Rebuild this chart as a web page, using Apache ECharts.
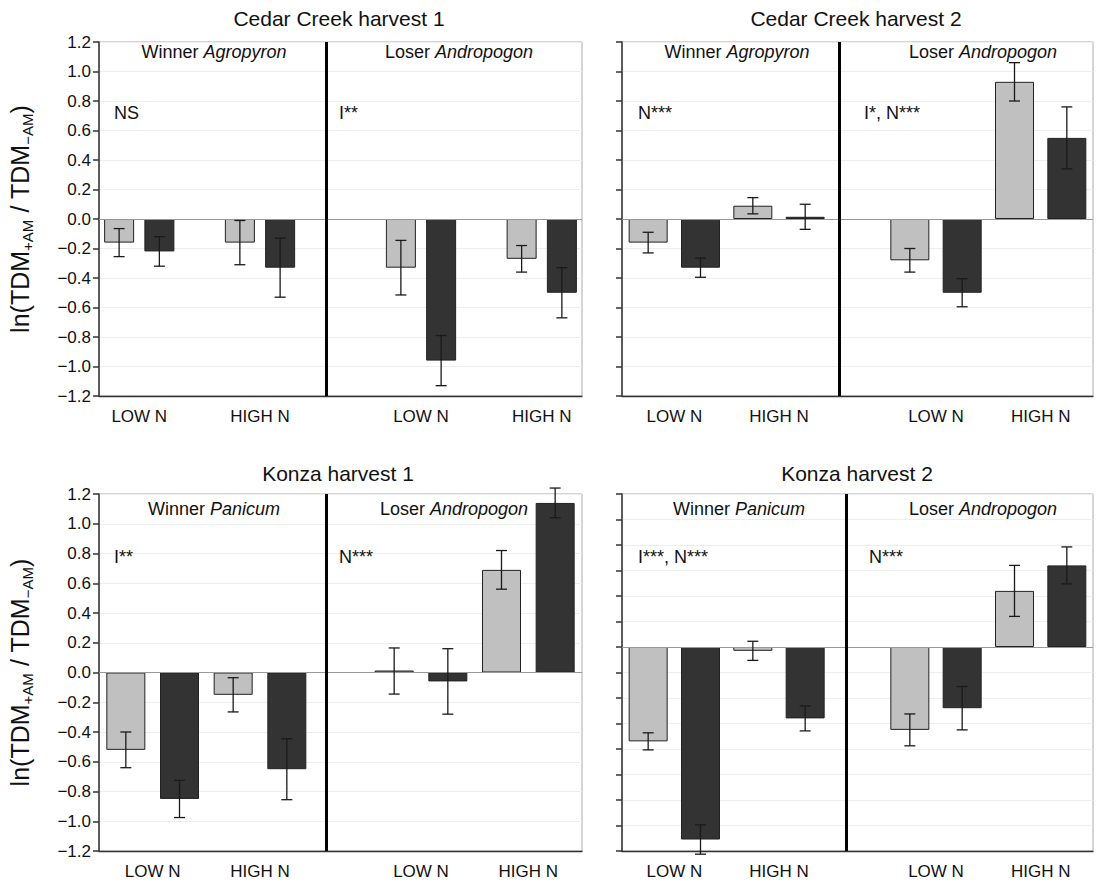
<!DOCTYPE html>
<html>
<head>
<meta charset="utf-8">
<title>ln(TDM+AM / TDM-AM)</title>
<script src="https://cdn.jsdelivr.net/npm/echarts@6/dist/echarts.min.js"></script>
<style>
  html, body { margin: 0; padding: 0; background: #fff; }
  #main { width: 1096px; height: 883px; }
</style>
</head>
<body>
<div id="main"></div>
<script>
// bar order in every panel:
// winner LOW (light, dark), winner HIGH (light, dark), loser LOW (light, dark), loser HIGH (light, dark)
var nLabels = ['LOW N', 'HIGH N', 'LOW N', 'HIGH N'];
var slotsCC1 = [0, 1, 3, 4, 7, 8, 10, 11];
var slots = [0, 1, 2, 3, 5, 6, 7, 8];

var cc1Mean = [-0.16, -0.22, -0.16, -0.33, -0.33, -0.96, -0.27, -0.50];
var cc1Err  = [0.095, 0.10, 0.15, 0.20, 0.185, 0.17, 0.09, 0.17];

var cc2Mean = [-0.16, -0.33, 0.09, 0.015, -0.28, -0.50, 0.93, 0.55];
var cc2Err  = [0.07, 0.065, 0.055, 0.085, 0.08, 0.095, 0.13, 0.21];

var k1Mean = [-0.52, -0.85, -0.15, -0.65, 0.01, -0.06, 0.69, 1.14];
var k1Err  = [0.12, 0.125, 0.115, 0.205, 0.155, 0.22, 0.13, 0.10];

var k2Mean = [-0.74, -1.51, -0.03, -0.56, -0.65, -0.48, 0.44, 0.64];
var k2Err  = [0.067, 0.115, 0.075, 0.098, 0.125, 0.17, 0.20, 0.145];

var FONT = '"Liberation Sans", Arial, Helvetica, sans-serif';
var LIGHT = '#c0c0c0', DARK = '#333333', INK = '#111';

var panels = [
  { title: 'Cedar Creek harvest 1', slots: slotsCC1, xMax: 11.5, divider: 5.15,
    mean: cc1Mean, err: cc1Err, yMin: -1.2, yMax: 1.2, yLabels: true, barWidth: 30,
    grid: { left: 99, top: 42, width: 483, height: 354 },
    winner: 'Agropyron', stats: ['NS', 'I**'],
    pos: { title: [339, 18], sub: [[214, 52], [459, 52]], stat: [[114, 113], [339, 113]] } },
  { title: 'Cedar Creek harvest 2', slots: slots, xMax: 8.5, divider: 3.65,
    mean: cc2Mean, err: cc2Err, yMin: -1.2, yMax: 1.2, yLabels: false, barWidth: 39,
    grid: { left: 622, top: 42, width: 481, height: 354 },
    winner: 'Agropyron', stats: ['N***', 'I*, N***'],
    pos: { title: [856, 18], sub: [[737, 52], [983, 52]], stat: [[638, 113], [864, 113]] } },
  { title: 'Konza harvest 1', slots: slots, xMax: 8.5, divider: 3.73,
    mean: k1Mean, err: k1Err, yMin: -1.2, yMax: 1.2, yLabels: true, barWidth: 39,
    grid: { left: 99, top: 494, width: 483, height: 357 },
    winner: 'Panicum', stats: ['I**', 'N***'],
    pos: { title: [338, 473], sub: [[214, 509], [454, 509]], stat: [[114, 557], [339, 557]] } },
  { title: 'Konza harvest 2', slots: slots, xMax: 8.5, divider: 3.78,
    mean: k2Mean, err: k2Err, yMin: -1.6, yMax: 1.2, yLabels: false, barWidth: 39,
    grid: { left: 622, top: 494, width: 481, height: 357 },
    winner: 'Panicum', stats: ['I***, N***', 'N***'],
    pos: { title: [857, 473], sub: [[739, 509], [983, 509]], stat: [[638, 557], [869, 557]] } }
];

var yName = '{t|ln(TDM}{s|+AM}{t| / TDM}{s|\u2212AM}{t|)}';

function fmtTick(v) {
  return v.toFixed(1).replace('-', '\u2212');
}

function pairLabel(p, v) {
  for (var k = 0; k < 4; k++) {
    var mid = (p.slots[2 * k] + p.slots[2 * k + 1]) / 2;
    if (Math.abs(mid - v) < 1e-6) return nLabels[k];
  }
  return '';
}

function renderErr(params, api) {
  var x = api.value(0);
  var top = api.coord([x, api.value(2)]);
  var bot = api.coord([x, api.value(1)]);
  var w = 5.5;
  var st = { stroke: '#1a1a1a', lineWidth: 1.3 };
  return {
    type: 'group',
    children: [
      { type: 'line', shape: { x1: top[0], y1: top[1], x2: bot[0], y2: bot[1] }, style: st },
      { type: 'line', shape: { x1: top[0] - w, y1: top[1], x2: top[0] + w, y2: top[1] }, style: st },
      { type: 'line', shape: { x1: bot[0] - w, y1: bot[1], x2: bot[0] + w, y2: bot[1] }, style: st }
    ]
  };
}

var grids = [], xAxes = [], yAxes = [], series = [], texts = [];

panels.forEach(function (p, i) {
  grids.push({
    left: p.grid.left, top: p.grid.top, width: p.grid.width, height: p.grid.height,
    show: true, borderColor: '#aaaaaa', borderWidth: 1, backgroundColor: 'transparent'
  });

  xAxes.push({
    gridIndex: i, type: 'value', min: -0.5, max: p.xMax, interval: 0.5,
    axisLine: { onZero: false, lineStyle: { color: '#333', width: 1.3 } },
    axisTick: { show: false },
    splitLine: { show: false },
    axisLabel: {
      margin: 12, fontSize: 17, color: INK, fontFamily: FONT,
      showMinLabel: true, showMaxLabel: true,
      formatter: function (v) { return pairLabel(p, v); }
    }
  });

  yAxes.push({
    gridIndex: i, type: 'value', min: p.yMin, max: p.yMax, interval: 0.2,
    axisLine: { show: true, onZero: false, lineStyle: { color: '#333', width: 1.5 } },
    axisTick: { show: true, length: 6, lineStyle: { color: '#333', width: 1.5 } },
    axisLabel: { show: p.yLabels, margin: 8, fontSize: 17, color: INK, fontFamily: FONT, formatter: fmtTick },
    splitLine: { show: true, lineStyle: { color: '#eeeeee', width: 1 } },
    name: p.yLabels ? yName : '',
    nameLocation: 'middle', nameRotate: 90, nameGap: 64,
    nameTextStyle: {
      fontSize: 25, color: INK, fontFamily: FONT,
      rich: {
        t: { fontSize: 25, color: INK, fontFamily: FONT },
        s: { fontSize: 15, color: INK, fontFamily: FONT, padding: [16, 0, 0, 0] }
      }
    }
  });

  series.push({
    type: 'bar', xAxisIndex: i, yAxisIndex: i, barWidth: p.barWidth, barMinHeight: 2,
    itemStyle: { borderColor: '#222', borderWidth: 1 },
    data: p.mean.map(function (m, k) {
      return { value: [p.slots[k], m], itemStyle: { color: k % 2 ? DARK : LIGHT } };
    }),
    markLine: {
      silent: true, symbol: 'none', label: { show: false }, animation: false,
      data: [
        { yAxis: 0, lineStyle: { color: '#999', width: 1, type: 'solid' } },
        { xAxis: p.divider, lineStyle: { color: '#000', width: 3, type: 'solid' } }
      ]
    }
  });

  series.push({
    type: 'custom', xAxisIndex: i, yAxisIndex: i, renderItem: renderErr, z: 5,
    encode: { x: 0, y: [1, 2] },
    data: p.mean.map(function (m, k) { return [p.slots[k], m - p.err[k], m + p.err[k]]; })
  });

  texts.push({
    type: 'text', x: p.pos.title[0], y: p.pos.title[1], z: 100,
    style: { text: p.title, font: '21px ' + FONT, fill: INK, textAlign: 'center', textVerticalAlign: 'middle' }
  });
  var subs = [['Winner ', p.winner], ['Loser ', 'Andropogon']];
  subs.forEach(function (s, j) {
    texts.push({
      type: 'text', x: p.pos.sub[j][0], y: p.pos.sub[j][1], z: 100,
      style: {
        text: '{r|' + s[0] + '}{i|' + s[1] + '}', textAlign: 'center', textVerticalAlign: 'middle',
        rich: {
          r: { fontSize: 18, fontFamily: FONT, fill: INK },
          i: { fontSize: 18, fontFamily: FONT, fontStyle: 'italic', fill: INK }
        }
      }
    });
    texts.push({
      type: 'text', x: p.pos.stat[j][0], y: p.pos.stat[j][1], z: 100,
      style: { text: p.stats[j], font: '18px ' + FONT, fill: INK, textAlign: 'left', textVerticalAlign: 'middle' }
    });
  });
});

var chart = echarts.init(document.getElementById('main'), null, { renderer: 'svg' });
chart.setOption({
  backgroundColor: '#fff',
  animation: false,
  grid: grids,
  xAxis: xAxes,
  yAxis: yAxes,
  series: series,
  graphic: texts
});
</script>
</body>
</html>
